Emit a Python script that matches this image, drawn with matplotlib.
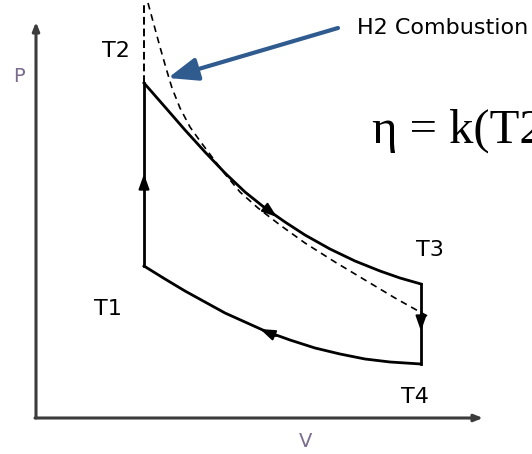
import matplotlib.pyplot as plt

# P-V diagram, values (arbitrary units, origin at the axes corner)
upper_v = [108, 129, 149, 169, 189, 209, 229, 249, 269, 294, 319, 344, 364, 385]
upper_p = [335, 311, 288, 266, 245, 226, 210, 196, 183, 169, 157, 147, 140, 134]

lower_v = [108, 129, 149, 169, 189, 209, 229, 254, 279, 304, 329, 354, 385]
lower_p = [152, 139, 127, 116, 105, 96, 87, 78, 70, 64, 59, 56, 54]

# ideal curve (dashed) and the vertical dashed line above T2
ideal_v = [112, 118, 124, 130, 136, 144, 154, 164, 176, 189, 204, 222, 244, 269, 299, 329, 359, 393]
ideal_p = [415, 393, 371, 350, 330, 310, 291, 277, 261, 244, 226, 210, 193, 175, 156, 138, 120, 101]
vert_v = [108, 108]
vert_p = [335, 415]

# state points T1..T4
state_names = ['T1', 'T2', 'T3', 'T4']
state_v = [108, 108, 385, 385]
state_p = [152, 335, 134, 54]

# direction arrows on the cycle: (tail, head)
flow_arrows = [((108, 228), (108, 244)),
               ((227, 212), (241, 201)),
               ((385, 104), (385, 87)),
               ((240, 82), (224, 89))]

fig = plt.figure(figsize=(5.32, 4.54), dpi=100)
ax = fig.add_axes([0, 0, 1, 1])
ax.set_xlim(-36, 496)
ax.set_ylim(-36, 418)
ax.axis('off')

# axes with arrow heads
axis_col = '#3c3c3c'
ax.annotate('', xy=(0, 396), xytext=(0, 0),
            arrowprops=dict(arrowstyle='-|>,head_length=0.5,head_width=0.2',
                            color=axis_col, lw=2.2, shrinkA=0, shrinkB=0))
ax.annotate('', xy=(447, 0), xytext=(-1, 0),
            arrowprops=dict(arrowstyle='-|>,head_length=0.5,head_width=0.2',
                            color=axis_col, lw=2.2, shrinkA=0, shrinkB=0))

# cycle
ax.plot(upper_v, upper_p, color='black', lw=2)
ax.plot(lower_v, lower_p, color='black', lw=2)
ax.plot([state_v[0], state_v[1]], [state_p[0], state_p[1]], color='black', lw=2)
ax.plot([state_v[2], state_v[3]], [state_p[2], state_p[3]], color='black', lw=2)

ax.plot(ideal_v, ideal_p, color='black', lw=1.2, ls=(0, (4, 3)))
ax.plot(vert_v, vert_p, color='black', lw=1.4, ls=(0, (4, 2)))

for tail, head in flow_arrows:
    ax.annotate('', xy=head, xytext=tail,
                arrowprops=dict(arrowstyle='-|>,head_length=0.9,head_width=0.32',
                                color='black', lw=1.5, shrinkA=0, shrinkB=0))

# labels of the state points
label_pos = {'T1': (58, 103), 'T2': (66, 361), 'T3': (380, 162), 'T4': (365, 15)}
for name in state_names:
    ax.text(*label_pos[name], name, fontsize=16, family='DejaVu Sans',
            ha='left', va='baseline')

ax.text(-23, 336, 'P', fontsize=14, color='#7b6b8d', ha='left', va='baseline')
ax.text(270, -29, 'V', fontsize=14, color='#7b6b8d', ha='center', va='baseline')

# combustion callout
ax.annotate('', xy=(132, 340), xytext=(302, 390),
            arrowprops=dict(arrowstyle='-|>,head_length=0.9,head_width=0.35',
                            color='#2f5b8f', lw=3, shrinkA=0, shrinkB=0,
                            mutation_scale=20))
ax.text(321, 384, 'H2 Combustion', fontsize=16, family='DejaVu Sans',
        ha='left', va='baseline')

ax.text(336, 275, 'η = k(T2', fontsize=35, family='Liberation Serif',
        ha='left', va='baseline')

fig.savefig('out.png', dpi=100)
